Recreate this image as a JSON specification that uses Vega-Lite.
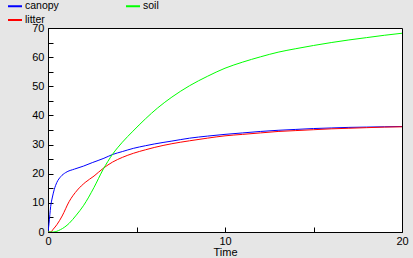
{
  "$schema": "https://vega.github.io/schema/vega-lite/v6.json",
  "width": 354,
  "height": 204,
  "autosize": {"type": "none"},
  "padding": {"left": 48, "top": 28, "right": 11, "bottom": 26},
  "background": "#e6e6e6",
  "config": {
    "view": {"fill": "white", "stroke": "black", "strokeWidth": 1},
    "font": "Liberation Sans",
    "axis": {
      "domainColor": "black",
      "domainWidth": 1,
      "tickColor": "black",
      "tickWidth": 1,
      "tickSize": -5,
      "labelColor": "black",
      "labelFontSize": 11,
      "labelFont": "Liberation Sans",
      "titleFont": "Liberation Sans",
      "titleFontSize": 11,
      "titleFontWeight": "normal",
      "titleColor": "black",
      "grid": false
    }
  },
  "data": {
    "values": [
      {"t": 0, "s": "canopy", "v": 0},
      {"t": 0.06, "s": "canopy", "v": 3},
      {"t": 0.15, "s": "canopy", "v": 8.7},
      {"t": 0.25, "s": "canopy", "v": 12},
      {"t": 0.35, "s": "canopy", "v": 14.5},
      {"t": 0.5, "s": "canopy", "v": 17},
      {"t": 0.72, "s": "canopy", "v": 19},
      {"t": 1.0, "s": "canopy", "v": 20.4},
      {"t": 1.5, "s": "canopy", "v": 21.6},
      {"t": 2, "s": "canopy", "v": 22.6},
      {"t": 2.5, "s": "canopy", "v": 23.8},
      {"t": 3.16, "s": "canopy", "v": 25.3},
      {"t": 3.65, "s": "canopy", "v": 26.6},
      {"t": 4.2, "s": "canopy", "v": 27.6},
      {"t": 4.82, "s": "canopy", "v": 28.7},
      {"t": 5.5, "s": "canopy", "v": 29.6},
      {"t": 6, "s": "canopy", "v": 30.2},
      {"t": 7, "s": "canopy", "v": 31.2},
      {"t": 8, "s": "canopy", "v": 32.2},
      {"t": 9, "s": "canopy", "v": 32.9},
      {"t": 10, "s": "canopy", "v": 33.5},
      {"t": 11, "s": "canopy", "v": 34},
      {"t": 12, "s": "canopy", "v": 34.5},
      {"t": 13, "s": "canopy", "v": 34.9},
      {"t": 14, "s": "canopy", "v": 35.2},
      {"t": 15, "s": "canopy", "v": 35.5},
      {"t": 16, "s": "canopy", "v": 35.7},
      {"t": 17, "s": "canopy", "v": 35.9},
      {"t": 18, "s": "canopy", "v": 36},
      {"t": 19, "s": "canopy", "v": 36.1},
      {"t": 20, "s": "canopy", "v": 36.2},
      {"t": 0, "s": "litter", "v": 0},
      {"t": 0.15, "s": "litter", "v": 0},
      {"t": 0.3, "s": "litter", "v": 1},
      {"t": 0.5, "s": "litter", "v": 2.5},
      {"t": 0.8, "s": "litter", "v": 5.5},
      {"t": 1.19, "s": "litter", "v": 10.4},
      {"t": 1.66, "s": "litter", "v": 14.4},
      {"t": 2.1, "s": "litter", "v": 17},
      {"t": 2.6, "s": "litter", "v": 19.2},
      {"t": 3.13, "s": "litter", "v": 21.9},
      {"t": 3.65, "s": "litter", "v": 24},
      {"t": 4.2, "s": "litter", "v": 25.6},
      {"t": 4.82, "s": "litter", "v": 27},
      {"t": 5.5, "s": "litter", "v": 28.2},
      {"t": 6, "s": "litter", "v": 29},
      {"t": 7, "s": "litter", "v": 30.3},
      {"t": 8, "s": "litter", "v": 31.3},
      {"t": 9, "s": "litter", "v": 32.2},
      {"t": 10, "s": "litter", "v": 33},
      {"t": 11, "s": "litter", "v": 33.5},
      {"t": 12, "s": "litter", "v": 34},
      {"t": 13, "s": "litter", "v": 34.5},
      {"t": 14, "s": "litter", "v": 34.8},
      {"t": 15, "s": "litter", "v": 35.1},
      {"t": 16, "s": "litter", "v": 35.4},
      {"t": 17, "s": "litter", "v": 35.6},
      {"t": 18, "s": "litter", "v": 35.8},
      {"t": 19, "s": "litter", "v": 36},
      {"t": 20, "s": "litter", "v": 36.1},
      {"t": 0, "s": "soil", "v": 0},
      {"t": 0.3, "s": "soil", "v": 0},
      {"t": 0.7, "s": "soil", "v": 0.8},
      {"t": 1.2, "s": "soil", "v": 3},
      {"t": 1.6, "s": "soil", "v": 5.8},
      {"t": 2.0, "s": "soil", "v": 9},
      {"t": 2.6, "s": "soil", "v": 15.3},
      {"t": 3.1, "s": "soil", "v": 21.3},
      {"t": 3.65, "s": "soil", "v": 26.7},
      {"t": 4.2, "s": "soil", "v": 30.8},
      {"t": 4.8, "s": "soil", "v": 34.6},
      {"t": 5.5, "s": "soil", "v": 38.8},
      {"t": 6.2, "s": "soil", "v": 42.6},
      {"t": 7, "s": "soil", "v": 46.3},
      {"t": 8, "s": "soil", "v": 50.2},
      {"t": 9, "s": "soil", "v": 53.4},
      {"t": 10, "s": "soil", "v": 56.2},
      {"t": 11, "s": "soil", "v": 58.3},
      {"t": 12, "s": "soil", "v": 60.1},
      {"t": 13, "s": "soil", "v": 61.7},
      {"t": 14, "s": "soil", "v": 62.9},
      {"t": 15, "s": "soil", "v": 64},
      {"t": 16, "s": "soil", "v": 65},
      {"t": 17, "s": "soil", "v": 65.9},
      {"t": 18, "s": "soil", "v": 66.7},
      {"t": 19, "s": "soil", "v": 67.5},
      {"t": 20, "s": "soil", "v": 68.2}
    ]
  },
  "mark": {"type": "line", "strokeWidth": 1, "clip": true, "interpolate": "monotone"},
  "encoding": {
    "x": {
      "field": "t",
      "type": "quantitative",
      "scale": {"domain": [0, 20], "nice": false},
      "axis": {
        "title": "Time",
        "values": [0, 5, 10, 15, 20],
        "labelExpr": "datum.value % 10 === 0 ? datum.label : ''",
        "labelPadding": 8,
        "labelFlush": false,
        "titlePadding": 0
      }
    },
    "y": {
      "field": "v",
      "type": "quantitative",
      "scale": {"domain": [0, 70], "nice": false},
      "axis": {
        "title": null,
        "values": [0, 5, 10, 15, 20, 25, 30, 35, 40, 45, 50, 55, 60, 65, 70],
        "labelExpr": "datum.value % 10 === 0 ? datum.label : ''",
        "labelPadding": 9,
        "labelFlush": false
      }
    },
    "color": {
      "field": "s",
      "type": "nominal",
      "scale": {"domain": ["canopy", "soil", "litter"], "range": ["#0000ff", "#00ff00", "#ff0000"]},
      "legend": {
        "title": null,
        "orient": "none",
        "legendX": -41,
        "legendY": -30,
        "direction": "horizontal",
        "columns": 2,
        "columnPadding": 63,
        "rowPadding": 0,
        "padding": 0,
        "symbolType": "stroke",
        "symbolSize": 196,
        "symbolStrokeWidth": 2,
        "labelOffset": 2,
        "labelFontSize": 10.5,
        "labelFont": "Liberation Sans",
        "labelColor": "black"
      }
    }
  }
}
